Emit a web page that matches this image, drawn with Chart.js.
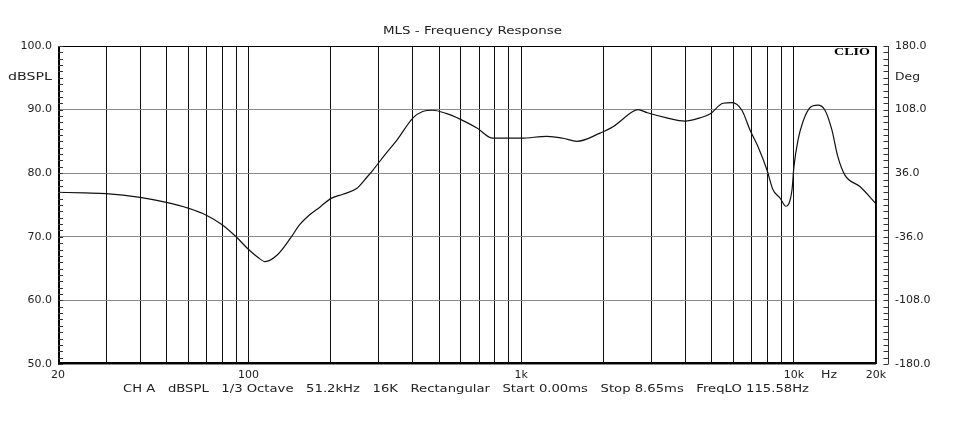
<!DOCTYPE html>
<html>
<head>
<meta charset="utf-8">
<script src="https://cdn.jsdelivr.net/npm/chart.js@4"></script>
<style>
  body { margin: 0; background: #fff; }
  #wrap { width: 976px; height: 431px; }
</style>
</head>
<body>
<div id="wrap"><canvas id="myChart"></canvas></div>
<script>
// frequency response (Hz, dBSPL)
const freqs = [20, 25, 30, 40, 50, 60, 70, 80, 90, 100, 108, 115, 127, 142, 154, 168, 183, 200, 222, 249, 272, 286, 316, 350, 401, 435, 474, 530, 596, 688, 787, 1000, 1242, 1422, 1600, 1945, 2170, 2566, 2680, 2900, 3420, 3983, 4520, 4921, 5495, 5930, 6446, 6900, 7380, 7966, 8380, 8890, 9350, 9840, 10000, 10350, 10790, 11450, 12250, 13000, 13780, 14490, 15380, 17460, 20000];
const spl = [77.0, 76.9, 76.8, 76.2, 75.4, 74.5, 73.4, 71.9, 70.0, 68.0, 66.8, 66.1, 67.1, 69.7, 71.9, 73.5, 74.7, 76.0, 76.7, 77.6, 79.4, 80.5, 82.9, 85.2, 88.7, 89.7, 89.9, 89.4, 88.5, 87.1, 85.5, 85.5, 85.8, 85.5, 85.0, 86.3, 87.3, 89.7, 90.0, 89.5, 88.7, 88.2, 88.7, 89.3, 91.0, 91.1, 89.9, 86.8, 84.2, 80.5, 77.4, 76.1, 74.8, 77.4, 81.0, 85.2, 88.1, 90.3, 90.7, 89.9, 86.8, 82.6, 79.7, 77.9, 75.2];

const gridFreqs = [20, 30, 40, 50, 60, 70, 80, 90, 100, 200, 300, 400, 500, 600, 700, 800, 900, 1000, 2000, 3000, 4000, 5000, 6000, 7000, 8000, 9000, 10000, 20000];
const xTickLabels = { 20: '20', 100: '100', 1000: '1k', 10000: '10k', 20000: '20k' };

const title = 'MLS - Frequency Response';
const footer = 'CH A   dBSPL   1/3 Octave   51.2kHz   16K   Rectangular   Start 0.00ms   Stop 8.65ms   FreqLO 115.58Hz';

const FONT = '"DejaVu Sans", sans-serif';

// draw text stretched to fit between x0 and x1 (the original has wide glyphs)
function fitText(ctx, text, x0, x1, y, font) {
  ctx.save();
  ctx.font = font;
  const w = ctx.measureText(text).width;
  ctx.translate(x0, y);
  ctx.scale((x1 - x0) / w, 1);
  ctx.textAlign = 'left';
  ctx.textBaseline = 'middle';
  ctx.fillText(text, 0, 0);
  ctx.restore();
}

const decor = {
  id: 'decor',
  afterDraw(chart) {
    const { ctx, chartArea: a, scales } = chart;
    ctx.save();
    ctx.fillStyle = '#222';
    fitText(ctx, title, 383, 562, 31, '11px ' + FONT);
    fitText(ctx, footer, 123, 809, 389, '11px ' + FONT);
    fitText(ctx, 'dBSPL', 8, 52, 77, '11px ' + FONT);
    fitText(ctx, 'Deg', 895, 920, 77, '11px ' + FONT);
    fitText(ctx, 'Hz', 821, 837, 375, '11px ' + FONT);
    ctx.fillStyle = '#000';
    fitText(ctx, 'CLIO', 834, 870, 52, 'bold 10px "Liberation Serif", serif');

    // frame
    ctx.strokeStyle = '#000';
    ctx.lineWidth = 1;
    ctx.strokeRect(a.left + 0.5, a.top + 0.5, a.right - a.left - 1, a.bottom - a.top - 1);
    ctx.lineWidth = 2;
    ctx.beginPath();
    ctx.moveTo(a.left, a.bottom - 1);
    ctx.lineTo(a.right, a.bottom - 1);
    ctx.moveTo(a.left + 1, a.top);
    ctx.lineTo(a.left + 1, a.bottom);
    ctx.stroke();

    // minor ticks, left axis (inside) every 1 dB
    ctx.lineWidth = 1;
    ctx.strokeStyle = '#333';
    ctx.beginPath();
    for (let v = 50; v <= 100; v++) {
      const y = Math.round(scales.y.getPixelForValue(v)) + 0.5;
      ctx.moveTo(a.left, y);
      ctx.lineTo(a.left + 5, y);
    }
    // right phase axis line with ticks pointing left
    const rx = a.right + 12.5;
    ctx.moveTo(rx, a.top);
    ctx.lineTo(rx, a.bottom);
    for (let i = 0; i <= 50; i++) {
      const y = Math.round(scales.y2.getPixelForValue(-180 + i * 7.2)) + 0.5;
      ctx.moveTo(rx - 5, y);
      ctx.lineTo(rx, y);
    }
    ctx.stroke();
    ctx.restore();
  }
};

new Chart(document.getElementById('myChart'), {
  type: 'line',
  data: {
    datasets: [{
      label: 'dBSPL',
      data: freqs.map((f, i) => ({ x: f, y: spl[i] })),
      borderColor: '#111',
      borderWidth: 1.2,
      pointRadius: 0,
      cubicInterpolationMode: 'monotone',
      yAxisID: 'y'
    }]
  },
  options: {
    responsive: true,
    maintainAspectRatio: false,
    devicePixelRatio: 1,
    animation: false,
    layout: { padding: { top: 46, left: 0, right: 0, bottom: 0 } },
    plugins: { legend: { display: false }, title: { display: false }, tooltip: { enabled: false } },
    scales: {
      x: {
        type: 'logarithmic',
        min: 20,
        max: 20000,
        afterBuildTicks: s => { s.ticks = gridFreqs.map(v => ({ value: v })); },
        afterFit: s => { s.height = 67; },
        grid: { color: '#111', lineWidth: 1, drawTicks: false },
        border: { display: false },
        ticks: {
          autoSkip: false,
          maxRotation: 0,
          padding: 5,
          color: '#222',
          font: { family: FONT, size: 11 },
          callback: v => xTickLabels[v] ?? ''
        }
      },
      y: {
        position: 'left',
        min: 50,
        max: 100,
        afterFit: s => { s.width = 58; },
        grid: { color: '#8a8a8a', lineWidth: 1, drawTicks: false },
        border: { display: false },
        ticks: {
          stepSize: 10,
          padding: 6,
          color: '#222',
          font: { family: FONT, size: 11 },
          callback: v => v.toFixed(1)
        }
      },
      y2: {
        position: 'right',
        min: -180,
        max: 180,
        afterFit: s => { s.width = 100; },
        grid: { display: false, drawTicks: false },
        border: { display: false },
        ticks: {
          stepSize: 72,
          padding: 19,
          color: '#222',
          font: { family: FONT, size: 11 },
          callback: v => v.toFixed(1)
        }
      }
    }
  },
  plugins: [decor]
});
</script>
</body>
</html>
